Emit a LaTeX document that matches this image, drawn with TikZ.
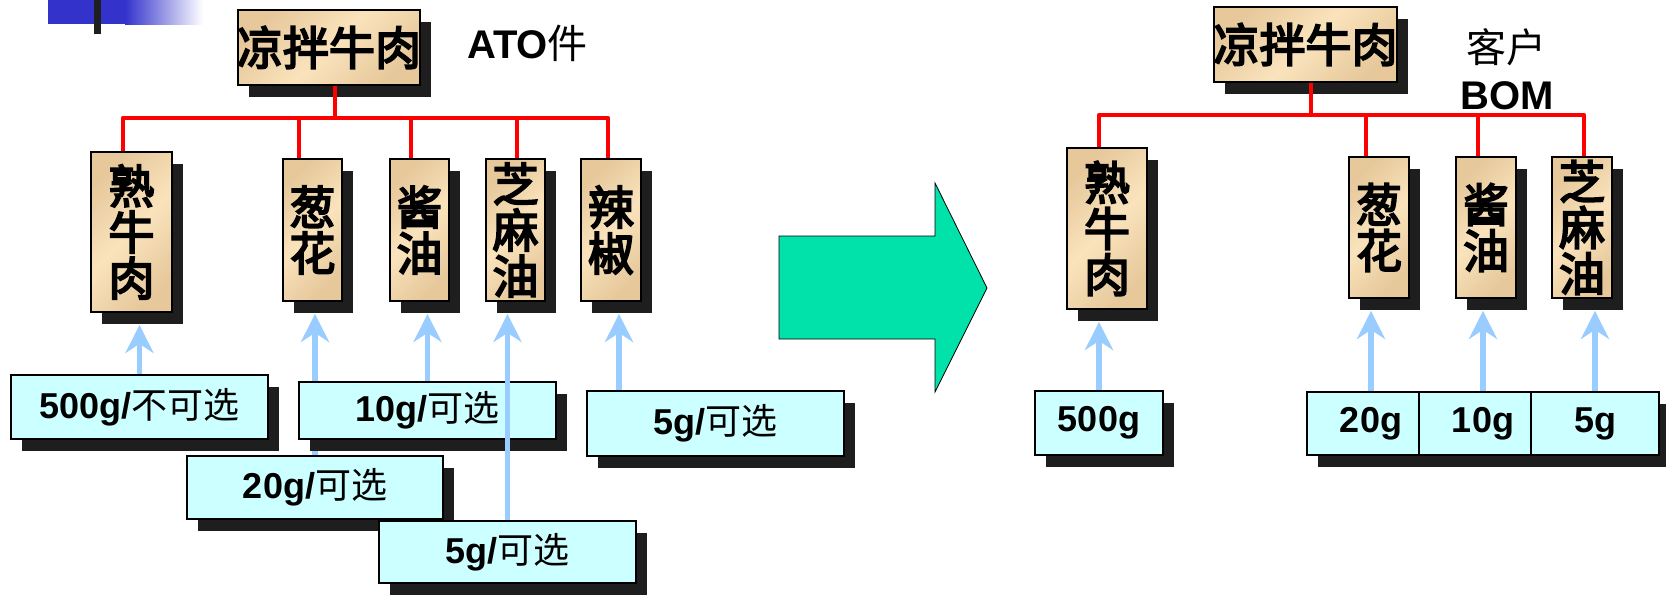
\documentclass[tikz,border=0pt]{standalone}
\usepackage{fontspec}
\setmainfont{Liberation Sans}
\newfontfamily\cjk{Noto Sans CJK SC}
\newfontfamily\cjkt{Noto Sans CJK SC}[FakeBold=4]
\usetikzlibrary{shadows,arrows.meta,calc}
\definecolor{tanD}{RGB}{230,200,155}
\definecolor{tanL}{RGB}{250,227,188}
\definecolor{cyanbox}{RGB}{204,255,255}
\definecolor{shadowc}{RGB}{30,30,30}
\definecolor{redc}{RGB}{255,0,0}
\definecolor{bluearr}{RGB}{153,204,255}
\definecolor{greenarr}{RGB}{0,226,170}
\definecolor{bluebar}{RGB}{51,51,204}
\tikzset{
  shad/.style={drop shadow={shadow xshift=11pt, shadow yshift=-12pt, fill=shadowc, opacity=1}},
  tanbox/.style={shad, draw=black, line width=1.8pt, left color=tanD, right color=tanD, middle color=tanL, shading angle=45, inner sep=0pt, align=center, font=\fontsize{46}{46}\cjkt},
  cbox/.style={shad, draw=black, line width=1.8pt, fill=cyanbox, inner sep=0pt, font=\fontsize{36}{36}\selectfont\bfseries},
  redl/.style={draw=redc, line width=4.5pt, line join=round},
  barr/.style={draw=bluearr, line width=5.5pt, -{Stealth[length=28pt,width=28pt,inset=9pt]}}
}
\begin{document}
\begin{tikzpicture}[x=1pt,y=-1pt]
\useasboundingbox (0,0) rectangle (1666,595);
% decoration top-left
\fill[bluebar] (48,0) rectangle (125,24);
\shade[left color=bluebar, right color=white] (125,0) rectangle (203,24);
\fill[black!88] (94,0) rectangle (101,34);

% ===== left tree =====
\node[tanbox, minimum width=182pt, minimum height=75pt] (tl) at (329,47.5) {\makebox[0pt]{凉拌牛肉}};
\node[anchor=base west, inner sep=0pt, font=\fontsize{40}{40}\selectfont\bfseries] (ato) at (467,58) {ATO{\mdseries\cjk 件}};
\node[tanbox, minimum width=81pt, minimum height=160pt] (a1) at (131.5,232) {熟\\牛\\肉};
\node[tanbox, minimum width=59pt, minimum height=142pt] (a2) at (312.5,230) {葱\\花};
\node[tanbox, minimum width=59pt, minimum height=142pt] (a3) at (419.5,230) {酱\\油};
\node[tanbox, minimum width=59pt, minimum height=142pt] (a4) at (515.5,230) {芝\\麻\\油};
\node[tanbox, minimum width=60pt, minimum height=142pt] (a5) at (611,230) {辣\\椒};

\draw[redl] ($(tl.south)+(6,0)$) -- ++(0,34);
\draw[redl] ($(a1.north)+(-8.5,0)$) |- ($(a5.north)+(-3,-40)$) -- ($(a5.north)+(-3,0)$);
\draw[redl] ($(a2.north)+(-13.5,0)$) -- ++(0,-40);
\draw[redl] ($(a3.north)+(-8.5,0)$) -- ++(0,-40);
\draw[redl] ($(a4.north)+(1.5,0)$) -- ++(0,-40);

\node[cbox, minimum width=257pt, minimum height=64pt] (b1) at (139.5,407) {500g/{\mdseries\cjk 不可选}};
\draw[barr] (b1.north) -- ($(b1.north |- a1.south)+(0,12)$);
\node[cbox, minimum width=256pt, minimum height=63pt] (b3) at (315,487.5) {20g/{\mdseries\cjk 可选}};
\draw[barr] (b3.north) -- ($(b3.north |- a2.south)+(0,12)$);
\node[cbox, minimum width=257pt, minimum height=57pt] (b2) at (427.5,410.5) {10g/{\mdseries\cjk 可选}};
\draw[barr] (b2.north) -- ($(b2.north |- a3.south)+(0,12)$);
\node[cbox, minimum width=257pt, minimum height=62pt] (b4) at (507.5,552) {5g/{\mdseries\cjk 可选}};
\draw[barr] (b4.north) -- ($(b4.north |- a4.south)+(0,12)$);
\node[cbox, minimum width=257pt, minimum height=65pt] (b5) at (715.5,423.5) {5g/{\mdseries\cjk 可选}};
\draw[barr] ($(b5.north)+(-96.5,0)$) -- ($(b5.north |- a5.south)+(-96.5,12)$);

% ===== big arrow =====
\draw[fill=greenarr, draw=black, line width=0.8pt] (779,236) -- (935,236) -- (935,183) -- (987,288) -- (935,392) -- (935,339) -- (779,339) -- cycle;

% ===== right tree =====
\node[tanbox, minimum width=183pt, minimum height=75pt] (tr) at (1305.5,44.5) {\makebox[0pt]{凉拌牛肉}};
\node[inner sep=0pt, font=\fontsize{40}{40}\cjk] (kh) at (1506,47) {客户};
\node[anchor=base west, inner sep=0pt, font=\fontsize{40}{40}\selectfont\bfseries] (bom) at (1460,109) {BOM};
\node[tanbox, minimum width=80pt, minimum height=161pt] (r1) at (1107,228.5) {熟\\牛\\肉};
\node[tanbox, minimum width=60pt, minimum height=141pt] (r2) at (1379,227.5) {葱\\花};
\node[tanbox, minimum width=60pt, minimum height=141pt] (r3) at (1486,227.5) {酱\\油};
\node[tanbox, minimum width=60pt, minimum height=141pt] (r4) at (1582,227.5) {芝\\麻\\油};

\draw[redl] ($(tr.south)+(5.5,0)$) -- ++(0,34);
\draw[redl] ($(r1.north)+(-8,0)$) |- ($(r4.north)+(2,-41)$) -- ($(r4.north)+(2,0)$);
\draw[redl] ($(r2.north)+(-13,0)$) -- ++(0,-41);
\draw[redl] ($(r3.north)+(-8,0)$) -- ++(0,-41);

\node[cbox, minimum width=128pt, minimum height=64pt] (c1) at (1099,423) {500g};
\draw[barr] (c1.north) -- ($(c1.north |- r1.south)+(0,12)$);
\node[cbox, minimum width=112pt, minimum height=63pt] (c2) at (1363,423.5) {\hspace*{16pt}20g};
\draw[barr] ($(c2.north)+(8,0)$) -- ($(c2.north |- r2.south)+(8,12)$);
\node[cbox, minimum width=112pt, minimum height=63pt] (c3) at (1475,423.5) {\hspace*{16pt}10g};
\draw[barr] ($(c3.north)+(8,0)$) -- ($(c3.north |- r3.south)+(8,12)$);
\node[cbox, minimum width=128pt, minimum height=63pt] (c4) at (1595,423.5) {5g};
\draw[barr] (c4.north) -- ($(c4.north |- r4.south)+(0,12)$);
\end{tikzpicture}
\end{document}
